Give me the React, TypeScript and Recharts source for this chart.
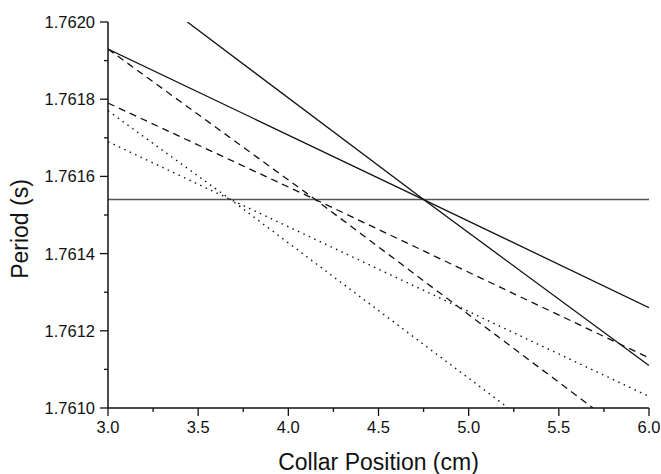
import { Label, Line, LineChart, XAxis, YAxis } from "recharts";

// collar position ticks (cm), majors every 0.5, minors every 0.25
const xTicks = [3.0, 3.25, 3.5, 3.75, 4.0, 4.25, 4.5, 4.75, 5.0, 5.25, 5.5, 5.75, 6.0];
// period ticks (s), majors every 0.0002
const yTicks = [
  1.761, 1.7611, 1.7612, 1.7613, 1.7614, 1.7615, 1.7616, 1.7617, 1.7618, 1.7619, 1.762,
];

// lines, as (x, period) points
const solidSteep = [
  { x: 3.44, y: 1.762 },
  { x: 4.75, y: 1.76154 },
  { x: 6.0, y: 1.76111 },
];
const solidShallow = [
  { x: 3.0, y: 1.76193 },
  { x: 4.75, y: 1.76154 },
  { x: 6.0, y: 1.76126 },
];
const flatLine = [
  { x: 3.0, y: 1.76154 },
  { x: 6.0, y: 1.76154 },
];
const dashedSteep = [
  { x: 3.0, y: 1.76193 },
  { x: 4.15, y: 1.76154 },
  { x: 5.69, y: 1.761 },
];
const dashedShallow = [
  { x: 3.0, y: 1.76179 },
  { x: 4.15, y: 1.76154 },
  { x: 6.0, y: 1.76113 },
];
const dottedSteep = [
  { x: 3.0, y: 1.76177 },
  { x: 3.68, y: 1.76154 },
  { x: 5.22, y: 1.761 },
];
const dottedShallow = [
  { x: 3.0, y: 1.76169 },
  { x: 3.68, y: 1.76154 },
  { x: 6.0, y: 1.76103 },
];

const font = '"Liberation Sans", Arial, Helvetica, sans-serif';
const ink = "#111";

const YTick = (props: any) => {
  const { x, y, payload } = props;
  const major = Math.round(payload.value * 10000) % 2 === 0;
  return (
    <g>
      <line x1={x - (major ? 8 : 4)} x2={x} y1={y} y2={y} stroke={ink} strokeWidth={1.3} />
      {major && (
        <text
          x={x - 13}
          y={y}
          dy="0.36em"
          textAnchor="end"
          fontSize={16.5}
          fontFamily={font}
          fill={ink}
        >
          {payload.value.toFixed(4)}
        </text>
      )}
    </g>
  );
};

const XTick = (props: any) => {
  const { x, y, payload } = props;
  const major = Math.round(payload.value * 100) % 50 === 0;
  return (
    <g>
      <line x1={x} x2={x} y1={y} y2={y + (major ? 8 : 4)} stroke={ink} strokeWidth={1.3} />
      {major && (
        <text
          x={x}
          y={y + 13}
          dy="0.71em"
          textAnchor="middle"
          fontSize={16.5}
          fontFamily={font}
          fill={ink}
        >
          {payload.value.toFixed(1)}
        </text>
      )}
    </g>
  );
};

export default function App() {
  return (
    <div
      style={{
        position: "absolute",
        left: 0,
        top: 0,
        width: 661,
        height: 474,
        background: "#fff",
        fontFamily: font,
      }}
    >
      <LineChart width={661} height={474} margin={{ top: 22, right: 12, bottom: 0, left: 0 }}>
        <XAxis
          dataKey="x"
          type="number"
          domain={[3, 6]}
          ticks={xTicks}
          allowDataOverflow
          height={66}
          tickSize={0}
          tickMargin={0}
          tickLine={false}
          tick={<XTick />}
          axisLine={{ stroke: ink, strokeWidth: 1.5 }}
        >
          <Label
            content={({ viewBox }: any) => (
              <text
                x={viewBox.x + viewBox.width / 2}
                y={470}
                textAnchor="middle"
                fontSize={23}
                fontFamily={font}
                fill={ink}
              >
                Collar Position (cm)
              </text>
            )}
          />
        </XAxis>
        <YAxis
          dataKey="y"
          type="number"
          domain={[1.761, 1.762]}
          ticks={yTicks}
          allowDataOverflow
          width={108}
          tickSize={0}
          tickMargin={0}
          tickLine={false}
          tick={<YTick />}
          axisLine={{ stroke: ink, strokeWidth: 1.5 }}
        >
          <Label
            content={() => (
              <text
                x={28}
                y={229}
                transform="rotate(-90, 28, 229)"
                textAnchor="middle"
                fontSize={23}
                fontFamily={font}
                fill={ink}
              >
                Period (s)
              </text>
            )}
          />
        </YAxis>
        <Line data={flatLine} dataKey="y" stroke="#555" strokeWidth={1.4} dot={false} isAnimationActive={false} />
        <Line data={solidSteep} dataKey="y" stroke={ink} strokeWidth={1.3} dot={false} isAnimationActive={false} />
        <Line data={solidShallow} dataKey="y" stroke={ink} strokeWidth={1.3} dot={false} isAnimationActive={false} />
        <Line
          data={dashedSteep}
          dataKey="y"
          stroke={ink}
          strokeWidth={1.3}
          strokeDasharray="7 5"
          dot={false}
          isAnimationActive={false}
        />
        <Line
          data={dashedShallow}
          dataKey="y"
          stroke={ink}
          strokeWidth={1.3}
          strokeDasharray="7 5"
          dot={false}
          isAnimationActive={false}
        />
        <Line
          data={dottedSteep}
          dataKey="y"
          stroke={ink}
          strokeWidth={1.4}
          strokeDasharray="1.5 4.5"
          dot={false}
          isAnimationActive={false}
        />
        <Line
          data={dottedShallow}
          dataKey="y"
          stroke={ink}
          strokeWidth={1.4}
          strokeDasharray="1.5 4.5"
          dot={false}
          isAnimationActive={false}
        />
      </LineChart>
    </div>
  );
}
